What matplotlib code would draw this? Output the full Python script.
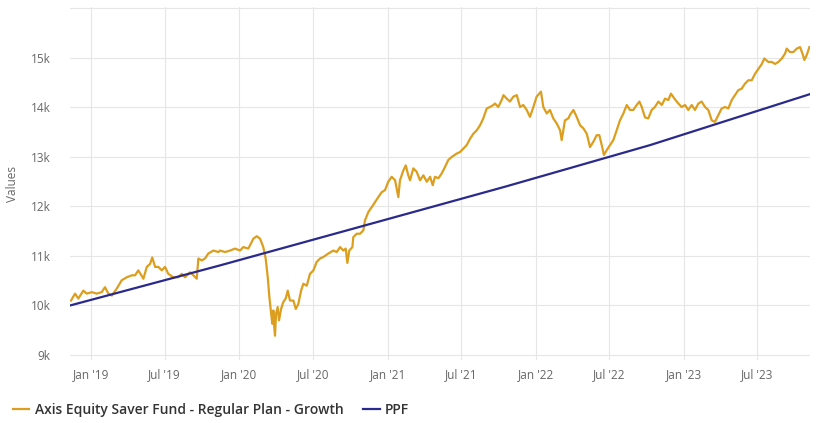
import pandas as pd
import matplotlib.pyplot as plt
from matplotlib.ticker import FixedLocator, FuncFormatter
from matplotlib.lines import Line2D

plt.rcParams['font.family'] = ['Open Sans', 'DejaVu Sans']

# fund NAV growth of 10k (decimal years)
fund_t = [
    2018.865, 2018.892, 2018.914, 2018.948, 2018.971, 2019.005, 2019.038, 2019.072, 2019.094, 2019.117,
    2019.140, 2019.173, 2019.207, 2019.241, 2019.275, 2019.297, 2019.319, 2019.353, 2019.376, 2019.398,
    2019.413, 2019.432, 2019.454, 2019.477, 2019.499, 2019.521, 2019.555, 2019.589, 2019.612, 2019.634,
    2019.668, 2019.690, 2019.713, 2019.724, 2019.747, 2019.769, 2019.791, 2019.825, 2019.859, 2019.870,
    2019.904, 2019.938, 2019.971, 2020.005, 2020.027, 2020.061, 2020.095, 2020.118, 2020.140, 2020.162,
    2020.178, 2020.192, 2020.203, 2020.214, 2020.223, 2020.230, 2020.236, 2020.241, 2020.248, 2020.259,
    2020.268, 2020.282, 2020.297, 2020.313, 2020.327, 2020.342, 2020.365, 2020.381, 2020.398, 2020.417,
    2020.432, 2020.455, 2020.477, 2020.500, 2020.522, 2020.545, 2020.567, 2020.601, 2020.634, 2020.657,
    2020.680, 2020.702, 2020.718, 2020.729, 2020.742, 2020.763, 2020.769, 2020.792, 2020.815, 2020.837,
    2020.848, 2020.871, 2020.894, 2020.916, 2020.938, 2020.961, 2020.983, 2021.005, 2021.028, 2021.051,
    2021.073, 2021.084, 2021.107, 2021.123, 2021.140, 2021.152, 2021.174, 2021.197, 2021.219, 2021.242,
    2021.265, 2021.287, 2021.305, 2021.320, 2021.343, 2021.366, 2021.388, 2021.410, 2021.433, 2021.467,
    2021.489, 2021.512, 2021.534, 2021.557, 2021.579, 2021.602, 2021.624, 2021.646, 2021.669, 2021.691,
    2021.714, 2021.725, 2021.747, 2021.770, 2021.782, 2021.804, 2021.826, 2021.849, 2021.872, 2021.894,
    2021.916, 2021.939, 2021.961, 2021.984, 2022.006, 2022.035, 2022.051, 2022.074, 2022.096, 2022.118,
    2022.141, 2022.164, 2022.175, 2022.197, 2022.220, 2022.231, 2022.254, 2022.276, 2022.299, 2022.321,
    2022.344, 2022.366, 2022.389, 2022.411, 2022.429, 2022.445, 2022.460, 2022.479, 2022.501, 2022.523,
    2022.546, 2022.568, 2022.591, 2022.614, 2022.636, 2022.658, 2022.681, 2022.699, 2022.715, 2022.737,
    2022.759, 2022.782, 2022.804, 2022.827, 2022.850, 2022.872, 2022.894, 2022.912, 2022.935, 2022.962,
    2022.984, 2023.007, 2023.029, 2023.052, 2023.074, 2023.097, 2023.119, 2023.142, 2023.164, 2023.187,
    2023.209, 2023.232, 2023.254, 2023.277, 2023.299, 2023.322, 2023.344, 2023.366, 2023.389, 2023.411,
    2023.434, 2023.457, 2023.479, 2023.502, 2023.525, 2023.542, 2023.569, 2023.592, 2023.614, 2023.637,
    2023.660, 2023.682, 2023.693, 2023.715, 2023.738, 2023.761, 2023.783, 2023.799, 2023.812, 2023.828,
    2023.846,
]
fund_v = [
    10100, 10240, 10140, 10300, 10240, 10270, 10240, 10270, 10370, 10240,
    10200, 10340, 10510, 10570, 10610, 10610, 10710, 10540, 10780, 10840,
    10970, 10780, 10780, 10710, 10780, 10640, 10570, 10570, 10640, 10570,
    10670, 10610, 10540, 10950, 10910, 10950, 11050, 11110, 11080, 11110,
    11080, 11110, 11150, 11110, 11180, 11150, 11350, 11400, 11350, 11180,
    10950, 10570, 10170, 9860, 9630, 9900, 9560, 9390, 9830, 9970,
    9700, 9930, 10070, 10140, 10300, 10100, 10100, 9930, 10030, 10300,
    10440, 10400, 10640, 10710, 10880, 10950, 10980, 11050, 11110, 11080,
    11180, 11110, 11150, 10860, 11110, 11180, 11380, 11450, 11450, 11520,
    11720, 11890, 11990, 12090, 12190, 12290, 12330, 12500, 12600, 12530,
    12190, 12530, 12730, 12830, 12630, 12530, 12770, 12700, 12530, 12630,
    12500, 12600, 12430, 12600, 12570, 12670, 12800, 12940, 13000, 13070,
    13100, 13170, 13240, 13370, 13470, 13540, 13640, 13780, 13980, 14010,
    14050, 14080, 14010, 14150, 14250, 14180, 14120, 14220, 14250, 14010,
    14050, 13950, 13810, 14010, 14220, 14320, 14010, 13880, 13950, 13780,
    13680, 13540, 13340, 13740, 13780, 13850, 13950, 13810, 13640, 13580,
    13470, 13200, 13310, 13440, 13440, 13240, 13040, 13140, 13240, 13340,
    13540, 13740, 13880, 14050, 13950, 13950, 14050, 14120, 14010, 13800,
    13780, 13950, 14010, 14120, 14050, 14180, 14150, 14280, 14180, 14080,
    14010, 14050, 13950, 14050, 13950, 14080, 14120, 14010, 13950, 13740,
    13710, 13850, 13980, 14010, 13980, 14150, 14250, 14350, 14380, 14480,
    14550, 14550, 14680, 14780, 14880, 14990, 14920, 14920, 14880, 14920,
    14990, 15090, 15190, 15120, 15120, 15190, 15220, 15090, 14960, 15060,
    15220,
]

ppf_t = [2018.858, 2019.870, 2020.814, 2021.793, 2022.771, 2023.850]
ppf_v = [10000, 10810, 11590, 12400, 13240, 14270]

y_ticks = [9000, 10000, 11000, 12000, 13000, 14000, 15000, 16000]
x_tick_dates = ['2019-01-01', '2019-07-01', '2020-01-01', '2020-07-01', '2021-01-01',
                '2021-07-01', '2022-01-01', '2022-07-01', '2023-01-01', '2023-07-01']
x_tick_labels = ["Jan '19", "Jul '19", "Jan '20", "Jul '20", "Jan '21",
                 "Jul '21", "Jan '22", "Jul '22", "Jan '23", "Jul '23"]

fund_name = "Axis Equity Saver Fund - Regular Plan - Growth"
ppf_name = "PPF"
fund_color = "#dc9e1e"
ppf_color = "#2a2a8c"
grid_color = "#e6e6e6"
text_color = "#666666"


def to_dates(years):
    base = pd.Timestamp('2019-01-01')
    return [base + pd.Timedelta(days=(y - 2019) * 365.25) for y in years]


fig = plt.figure(figsize=(8.19, 4.23), dpi=100)
W, H = 819, 423
ax = fig.add_axes([70 / W, 1 - 360 / H, 740 / W, 353 / H])

ax.plot(to_dates(fund_t), fund_v, color=fund_color, lw=1.6, zorder=3)
ax.plot(to_dates(ppf_t), ppf_v, color=ppf_color, lw=1.6, zorder=4)

ax.set_xlim(to_dates([2018.858])[0], to_dates([2023.85])[0])
ax.set_ylim(8899, 16030)

ax.yaxis.set_major_locator(FixedLocator(y_ticks))
ax.yaxis.set_major_formatter(FuncFormatter(lambda v, p: "" if v >= 16000 else f"{int(v / 1000)}k"))
ax.set_xticks(pd.to_datetime(x_tick_dates))
ax.set_xticklabels(x_tick_labels)

ax.grid(True, color=grid_color, lw=0.8)
ax.set_axisbelow(True)
for s in ax.spines.values():
    s.set_visible(False)
ax.tick_params(axis='both', length=0, colors=text_color, labelsize=8.5)
ax.tick_params(axis='y', pad=14)
ax.tick_params(axis='x', pad=6)

ax.set_ylabel("Values", color=text_color, fontsize=8.5, labelpad=8)

handles = [Line2D([], [], color=fund_color, lw=1.6), Line2D([], [], color=ppf_color, lw=1.6)]
fig.legend(handles, [fund_name, ppf_name], loc='center left', bbox_to_anchor=(0.0, 1 - 410 / H),
           ncol=2, frameon=False, handlelength=1.2, handletextpad=0.4, columnspacing=1.4,
           prop={'size': 10, 'weight': 'semibold'}, labelcolor='#333333')

fig.savefig("out.png", dpi=100)
